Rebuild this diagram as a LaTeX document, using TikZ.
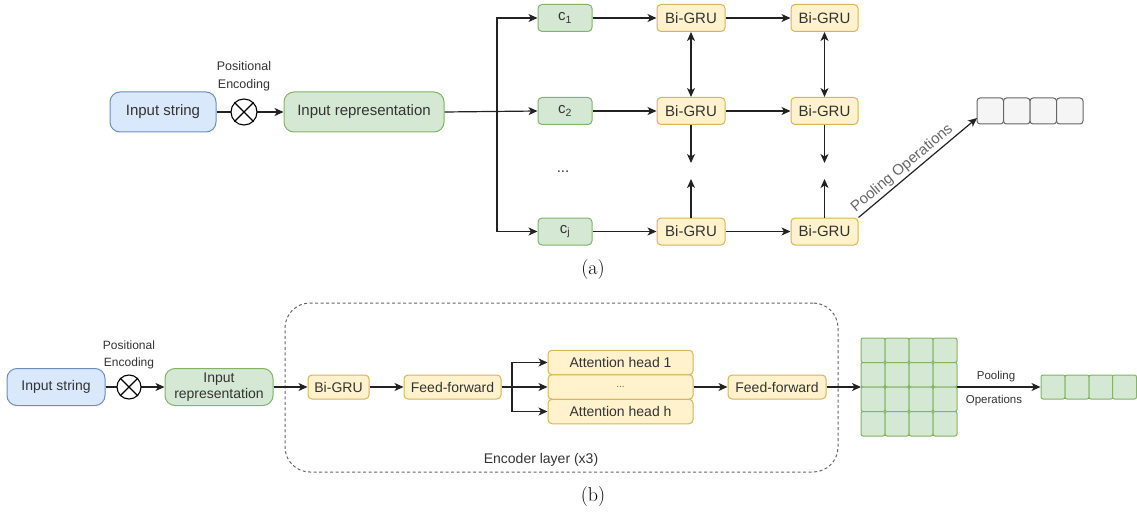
\documentclass[tikz,border=0pt]{standalone}
\usepackage{fontspec}
\newfontfamily\arial{Liberation Sans}
\usetikzlibrary{arrows.meta,calc}
\definecolor{bluef}{HTML}{DAE8FC}
\definecolor{blued}{HTML}{6C8EBF}
\definecolor{greenf}{HTML}{D5E8D4}
\definecolor{greend}{HTML}{82B366}
\definecolor{yelf}{HTML}{FFF2CC}
\definecolor{yeld}{HTML}{D6B656}
\definecolor{grayf}{HTML}{F5F5F5}
\definecolor{grayd}{HTML}{666666}
\definecolor{txt}{HTML}{333333}
\definecolor{ln}{HTML}{222222}
\tikzset{
  fa/.style={font=\arial\fontsize{15}{17}\selectfont},
  fb/.style={font=\arial\fontsize{14}{16}\selectfont},
  box/.style={draw, rounded corners=4pt, inner sep=0pt, text=txt, line width=1pt, align=center},
  sz/.style 2 args={minimum width=#1pt, minimum height=#2pt},
  bluebox/.style={box, fill=bluef, draw=blued, rounded corners=10pt},
  greenbox/.style={box, fill=greenf, draw=greend},
  greenbig/.style={box, fill=greenf, draw=greend, rounded corners=10pt},
  yelbox/.style={box, fill=yelf, draw=yeld},
  graycell/.style={box, fill=grayf, draw=grayd, rounded corners=3pt, minimum width=26.5pt, minimum height=26pt},
  gcell/.style={box, fill=greenf, draw=greend, rounded corners=2pt, minimum width=24pt, minimum height=24.5pt},
  gcellb/.style={box, fill=greenf, draw=greend, rounded corners=2pt, minimum width=24pt, minimum height=24pt},
  pe/.style={circle, draw=black, fill=white, line width=1.1pt, minimum size=#1pt, inner sep=0pt},
  small/.style={text=txt, align=center, font=\arial\fontsize{12}{17}\selectfont},
  arr/.style={-{Stealth[length=9pt,width=8pt,inset=2.5pt]}, line width=1.2pt, draw=ln},
  darr/.style={{Stealth[length=9pt,width=8pt,inset=2.5pt]}-{Stealth[length=9pt,width=8pt,inset=2.5pt]}, line width=1.2pt, draw=ln},
  captxt/.style={font=\fontsize{20}{22}\selectfont}
}
\begin{document}
\begin{tikzpicture}[x=1pt,y=-1pt]
\useasboundingbox (0,0) rectangle (1137,513);
% ---------------- (a)
\node[bluebox, fa, sz={106}{40}] (ins) at (163,112) {Input string};
\node[greenbig, fa, sz={160}{40}] (ir) at (364,112) {Input representation};
\draw[arr] (ins.east) -- (ir.west);
\node[pe=26] (pe) at (244,112) {};
\draw[line width=1.1pt] (pe.45) -- (pe.225) (pe.135) -- (pe.315);
\node[small, font=\arial\fontsize{12.5}{18}\selectfont] (pel) at (244,76) {Positional\\Encoding};

\node[greenbox, fa, sz={54}{27}] (c1) at (565,18) {c\textsubscript{1}};
\node[greenbox, fa, sz={54}{27}] (c2) at (565,111) {c\textsubscript{2}};
\node[greenbox, fa, sz={54}{27}] (cj) at (565,231.5) {c\textsubscript{j}};
\node[fa, text=txt] (dots) at (563,172) {...};
\coordinate (jn) at (497,111);
\draw[arr] (ir.east) -- (c2.west);
\draw[arr] (jn) |- (c1.west);
\draw[arr] (jn) |- (cj.west);

\foreach \r/\y in {1/18,2/111,3/231.5}{
  \node[yelbox, fa, sz={68}{27}] (g\r1) at (691,\y) {Bi-GRU};
  \node[yelbox, fa, sz={67}{27}] (g\r2) at (824.5,\y) {Bi-GRU};
}
\draw[arr] (c1) -- (g11); \draw[arr] (g11) -- (g12);
\draw[arr] (c2) -- (g21); \draw[arr] (g21) -- (g22);
\draw[arr] (cj) -- (g31); \draw[arr] (g31) -- (g32);
\draw[darr] (g11) -- (g21);
\draw[darr] (g12) -- (g22);
\coordinate (d1) at (691,163); \coordinate (d2) at (824.5,163);
\coordinate (u1) at (691,179); \coordinate (u2) at (824.5,179);
\draw[arr] (g21) -- (d1); \draw[arr] (g22) -- (d2);
\draw[arr] (g31) -- (u1); \draw[arr] (g32) -- (u2);

\foreach \i/\x in {1/990.25,2/1016.75,3/1043.25,4/1069.75}{
  \node[graycell] (a\i) at (\x,111) {};
}
\coordinate (pend) at (977,118);
\draw[arr] (g32.north east) -- node[pos=0.42, above, sloped, inner sep=2pt, text=grayd, fa] (pool) {Pooling Operations} (pend);

\node[captxt] (capa) at (593,270) {(a)};

% ---------------- (b)
\node[draw=grayd, dashed, dash pattern=on 3pt off 2.5pt, line width=1pt, rounded corners=25pt, minimum width=553pt, minimum height=169pt] (enc) at (561.5,387.5) {};
\node[fb, text=txt] (encl) at (541,460) {Encoder layer (x3)};

\node[bluebox, fb, sz={98}{37}] (insB) at (56,387) {Input string};
\node[greenbig, fb, sz={108}{37}, font=\arial\fontsize{14}{16}\selectfont] (irB) at (219,387) {Input\\representation};
\draw[arr] (insB.east) -- (irB.west);
\node[pe=24] (peB) at (129,387) {};
\draw[line width=1.1pt] (peB.45) -- (peB.225) (peB.135) -- (peB.315);
\node[small] (peBl) at (129,355) {Positional\\Encoding};

\node[yelbox, fb, sz={61}{24}] (bg) at (338.5,387) {Bi-GRU};
\node[yelbox, fb, sz={97}{24}] (ff1) at (452.5,387) {Feed-forward};
\node[yelbox, fb, sz={145}{24.5}] (att1) at (620.5,362.5) {Attention head 1};
\node[yelbox, fb, sz={145}{24.5}] (attm) at (620.5,387) {\textcolor{grayd}{\fontsize{10}{10}\selectfont ...}};
\node[yelbox, fb, sz={145}{24.5}] (atth) at (620.5,411.5) {Attention head h};
\node[yelbox, fb, sz={98}{24}] (ff2) at (777,387) {Feed-forward};
\draw[arr] (irB.east) -- (bg.west);
\draw[arr] (bg) -- (ff1);
\coordinate (jb) at (512,387);
\draw[arr] (ff1.east) -- (attm.west);
\draw[arr] (jb) |- (att1.west);
\draw[arr] (jb) |- (atth.west);
\draw[arr] (attm.east) -- (ff2.west);

\foreach \i/\x in {1/873,2/897,3/921,4/945}{
  \foreach \j/\y in {1/350.25,2/374.75,3/399.25,4/423.75}{
    \node[gcell] (m\j\i) at (\x,\y) {};
  }
}
\coordinate (gl) at (861,387);
\coordinate (gr) at (957,387);
\draw[arr] (ff2.east) -- (gl);
\foreach \i/\x in {1/1053,2/1077,3/1101,4/1124.5}{
  \node[gcellb] (b\i) at (\x,387) {};
}
\draw[arr] (gr) -- (b1.west);
\node[small, font=\arial\fontsize{11.5}{14}\selectfont] (pl1) at (996,377) {Pooling};
\node[small, font=\arial\fontsize{11.5}{14}\selectfont] (pl2) at (994,401) {Operations};

\node[captxt] (capb) at (593,497) {(b)};
\end{tikzpicture}
\end{document}
